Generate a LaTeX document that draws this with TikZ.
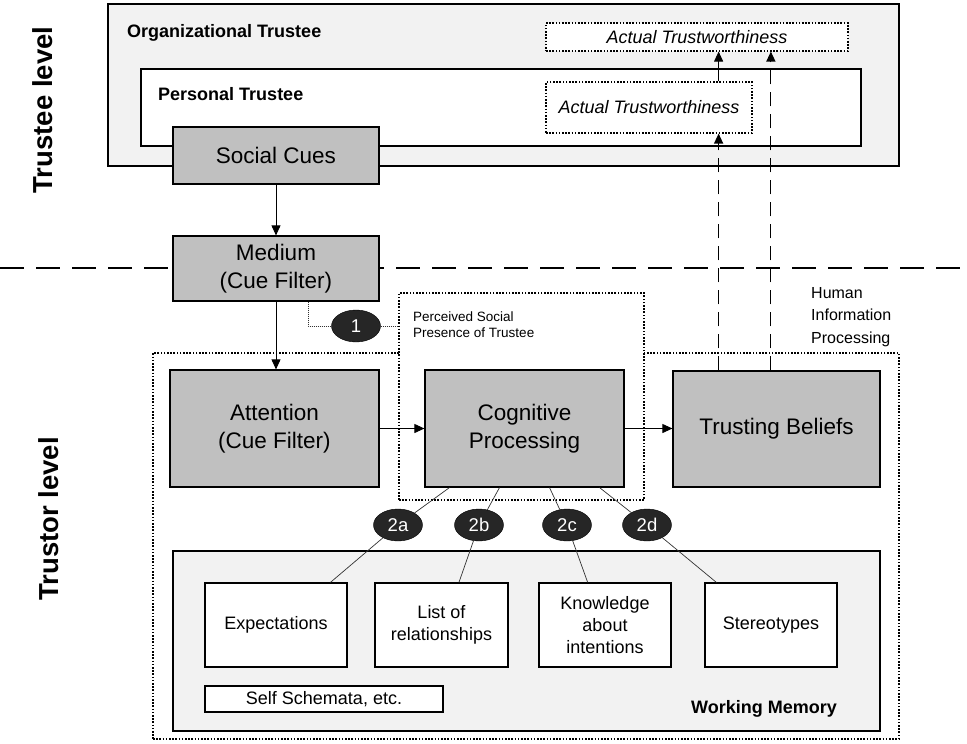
\documentclass[tikz,border=0pt]{standalone}
\usepackage{fontspec}
\setmainfont{Liberation Sans}
\usepackage{tikz}
\usetikzlibrary{shapes,arrows,positioning,calc,arrows.meta}

\definecolor{boxgray}{HTML}{C0C0C0}
\definecolor{areagray}{HTML}{F2F2F2}
\definecolor{numgray}{HTML}{262626}

\tikzset{
    graybox/.style={draw, fill=boxgray, line width=1.2pt, inner sep=0pt, align=center, font=\fontsize{22.5}{28}\selectfont},
    whitebox/.style={draw, fill=white, line width=1.2pt, inner sep=0pt, align=center, font=\fontsize{18}{22}\selectfont},
    dotbox/.style={draw, line width=1.1pt, dash pattern=on 1.6pt off 1.6pt, inner sep=0pt},
    numnode/.style={ellipse, draw, fill=numgray, text=white, minimum width=49pt, minimum height=32pt, inner sep=0pt, font=\fontsize{18.5}{22}\selectfont},
    link/.style={line width=0.7pt, draw=black!80},
    flow/.style={line width=0.9pt, -{Triangle[length=10pt,width=9pt]}},
    trustflow/.style={flow, line width=1.2pt, dash pattern=on 14pt off 8pt},
    boldlbl/.style={inner sep=0pt, font=\bfseries\fontsize{18}{22}\selectfont},
    levellbl/.style={rotate=90, inner sep=0pt, font=\bfseries\fontsize{27.5}{32}\selectfont}
}

\begin{document}
\begin{tikzpicture}[x=1pt, y=-1pt]
    \useasboundingbox (0,0) rectangle (967,744);

    % Level labels
    \node[levellbl] (trusteelvl) at (43,110) {Trustee level};
    \node[levellbl] (trustorlvl) at (49,519) {Trustor level};

    % Trustee side
    \node[draw, fill=areagray, line width=1.2pt, minimum width=791pt, minimum height=162pt] (org) at (503.5,85) {};
    \node[boldlbl, anchor=base west] (orglbl) at (127,37) {Organizational Trustee};
    \node[draw, fill=white, line width=1.2pt, minimum width=720pt, minimum height=77pt] (pers) at (501,107.5) {};
    \node[boldlbl, anchor=base west] (perslbl) at (158,100) {Personal Trustee};
    \node[dotbox, fill=white, minimum width=302pt, minimum height=28pt, font=\itshape\fontsize{18}{22}\selectfont] (acttop) at (697,37) {Actual Trustworthiness};
    \node[dotbox, fill=white, minimum width=206pt, minimum height=51pt, font=\itshape\fontsize{18}{22}\selectfont] (actpers) at (649,107.5) {Actual Trustworthiness};
    \node[graybox, minimum width=206pt, minimum height=57pt] (cues) at (276,155.5) {Social Cues};

    % Level divider
    \coordinate (divl) at (0,268);
    \coordinate (divr) at (967,268);
    \draw[line width=2.5pt, dash pattern=on 24pt off 12pt] (divl) -- (divr);

    \node[graybox, minimum width=206pt, minimum height=65pt] (medium) at (276,268.5) {Medium\\(Cue Filter)};

    % Trustor side
    \node[dotbox, minimum width=746pt, minimum height=386pt] (hip) at (526,546) {};
    \node[dotbox, fill=white, minimum width=245pt, minimum height=207pt] (perc) at (521.5,396.5) {};
    \node[anchor=north west, align=left, inner sep=0pt, font=\fontsize{13.5}{16}\selectfont] (perclbl) at (413,312) {Perceived Social\\Presence of Trustee};
    \node[anchor=north west, align=left, inner sep=0pt, font=\fontsize{16}{22.5}\selectfont] (hiplbl) at (811,287) {Human\\Information\\Processing};

    \node[graybox, minimum width=209pt, minimum height=117pt] (attn) at (274.5,428.5) {Attention\\(Cue Filter)};
    \node[graybox, minimum width=199pt, minimum height=117pt] (cogn) at (524.5,428.5) {Cognitive\\Processing};
    \node[graybox, minimum width=207pt, minimum height=116pt] (belief) at (776.5,429) {Trusting Beliefs};

    % Working memory
    \node[draw, fill=areagray, line width=1.2pt, minimum width=707pt, minimum height=180pt] (wm) at (526.5,641) {};
    \node[boldlbl, anchor=base east] (wmlbl) at (837,713) {Working Memory};
    \node[whitebox, minimum width=142pt, minimum height=84pt] (expec) at (276,625) {Expectations};
    \node[whitebox, minimum width=133pt, minimum height=84pt] (rel) at (441.5,625) {List of\\relationships};
    \node[whitebox, minimum width=132pt, minimum height=84pt] (know) at (605,625) {Knowledge\\about\\intentions};
    \node[whitebox, minimum width=132pt, minimum height=84pt] (stereo) at (771,625) {Stereotypes};
    \node[whitebox, minimum width=238pt, minimum height=26pt] (self) at (324,699) {Self Schemata, etc.};

    % Numbered links
    \node[numnode] (n1) at (356,326) {1};
    \draw[link, dash pattern=on 1pt off 1pt] ($(medium.south west)!0.655!(medium.south east)$) |- (n1);
    \draw[link, dash pattern=on 1pt off 1pt] (n1) -- (n1 -| perc.west);

    \foreach \n/\x in {2a/398, 2b/479, 2c/567, 2d/647}
        \node[numnode] (n\n) at (\x,525) {\n};
    \foreach \n/\f/\g/\b in {2a/0.125/0.88/expec, 2b/0.375/0.63/rel, 2c/0.625/0.37/know, 2d/0.875/0.09/stereo}
        \draw[link] ($(cogn.south west)!\f!(cogn.south east)$) -- (n\n) -- ($(\b.north west)!\g!(\b.north east)$);

    % Flow
    \draw[flow] (cues) -- (medium);
    \draw[flow] (medium.south) -- (medium.south |- attn.north);
    \draw[flow] (attn) -- (cogn);
    \draw[flow] (cogn.east) -- (cogn.east -| belief.west);

    % Feedback to actual trustworthiness
    \coordinate (t1) at ($(belief.north west)!0.222!(belief.north east)$);
    \coordinate (t2) at ($(belief.north west)!0.473!(belief.north east)$);
    \draw[trustflow] (t1) -- (t1 |- actpers.south);
    \draw[flow] (t1 |- actpers.north) -- (t1 |- acttop.south);
    \draw[trustflow] (t2) -- (t2 |- acttop.south);

\end{tikzpicture}
\end{document}
